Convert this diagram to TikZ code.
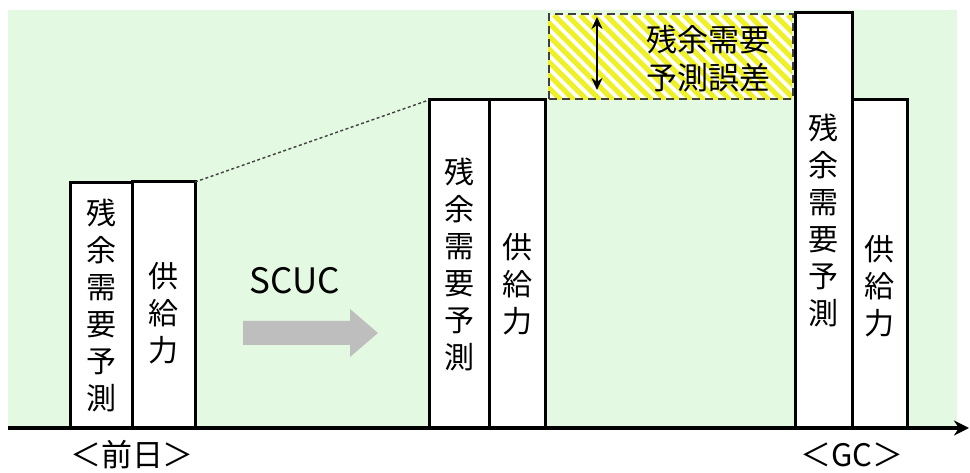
\documentclass[tikz,border=0pt]{standalone}
\usepackage{fontspec}
\setmainfont{Noto Sans CJK JP}
\usetikzlibrary{arrows.meta}

\definecolor{bggreen}{RGB}{228,249,225}
\definecolor{hatchyellow}{RGB}{238,240,40}
\definecolor{arrowgray}{RGB}{190,190,190}

\tikzset{
  bar/.style={draw=black, line width=3pt, fill=white, anchor=south west, inner sep=0pt, outer sep=0pt},
  vtext/.style={align=center, inner sep=0pt, font=\fontsize{30}{37}\selectfont},
}

\begin{document}
\begin{tikzpicture}[x=1pt,y=1pt]
        \useasboundingbox (0,0) rectangle (970,473);

        % Green background
        \fill[bggreen] (8,45) rectangle (957,463);

        % Hatched error box
        \begin{scope}
          \clip (548,373) rectangle (792,458);
          \fill[white] (548,373) rectangle (792,458);
          \foreach \k in {0,13,...,350}
            \draw[hatchyellow, line width=5pt] (450+\k,458) -- (535+\k,373);
        \end{scope}
        \node[draw=black!75, dash pattern=on 8pt off 5pt, line width=2pt,
              minimum width=244pt, minimum height=85pt, inner sep=0pt,
              anchor=south west] (err) at (548,373) {};
        \coordinate (errtop) at (597,456);
        \coordinate (errbot) at (597,383);
        \draw[{Stealth[length=12pt,width=11pt]}-{Stealth[length=12pt,width=11pt]}, line width=2.6pt] (errtop) -- (errbot);
        \node[align=center, inner sep=0pt, font=\fontsize{31}{38}\selectfont] (errlabel) at (708,414) {残余需要\\予測誤差};

        % Bars on the day before
        \node[bar, minimum width=62pt, minimum height=245pt] (dayres) at (70,45) {};
        \node[bar, minimum width=63pt, minimum height=246pt] (daysup) at (132,45) {};
        \node[vtext] at (dayres.center) {残\\余\\需\\要\\予\\測};
        \node[vtext, yshift=-8pt] at (daysup.center) {供\\給\\力};

        % Bars after SCUC
        \node[bar, minimum width=60pt, minimum height=328pt] (scres) at (429,45) {};
        \node[bar, minimum width=56pt, minimum height=328pt] (scsup) at (489,45) {};
        \node[vtext] at (scres.center) {残\\余\\需\\要\\予\\測};
        \node[vtext, yshift=-20pt] at (scsup.center) {供\\給\\力};

        % Bars at GC
        \node[bar, minimum width=57pt, minimum height=415pt] (gcres) at (795,45) {};
        \node[bar, minimum width=55pt, minimum height=328pt] (gcsup) at (852,45) {};
        \node[vtext] at (gcres.center) {残\\余\\需\\要\\予\\測};
        \node[vtext, yshift=-22pt] at (gcsup.center) {供\\給\\力};

        % Dotted guide line
        \draw[black!75, line width=1.4pt, dash pattern=on 3pt off 2.5pt] (daysup.north east) -- (scres.north west);

        % SCUC arrow
        \node[font=\fontsize{35}{40}\selectfont] (scuc) at (295,192) {SCUC};
        \fill[arrowgray] (243,128) -- (350,128) -- (350,116) -- (378,140) -- (350,164) -- (350,152) -- (243,152) -- cycle;

        % Time axis
        \coordinate (axstart) at (8,45);
        \coordinate (axend) at (969,45);
        \draw[-{Stealth[length=15pt,width=15pt]}, line width=3.5pt] (axstart) -- (axend);

        % Labels below the axis
        \node[font=\fontsize{31}{36}\selectfont] (dayb) at (132,18) {＜前日＞};
        \node[font=\fontsize{31}{36}\selectfont] (gc) at (852,18) {＜GC＞};
    \end{tikzpicture}
\end{document}
